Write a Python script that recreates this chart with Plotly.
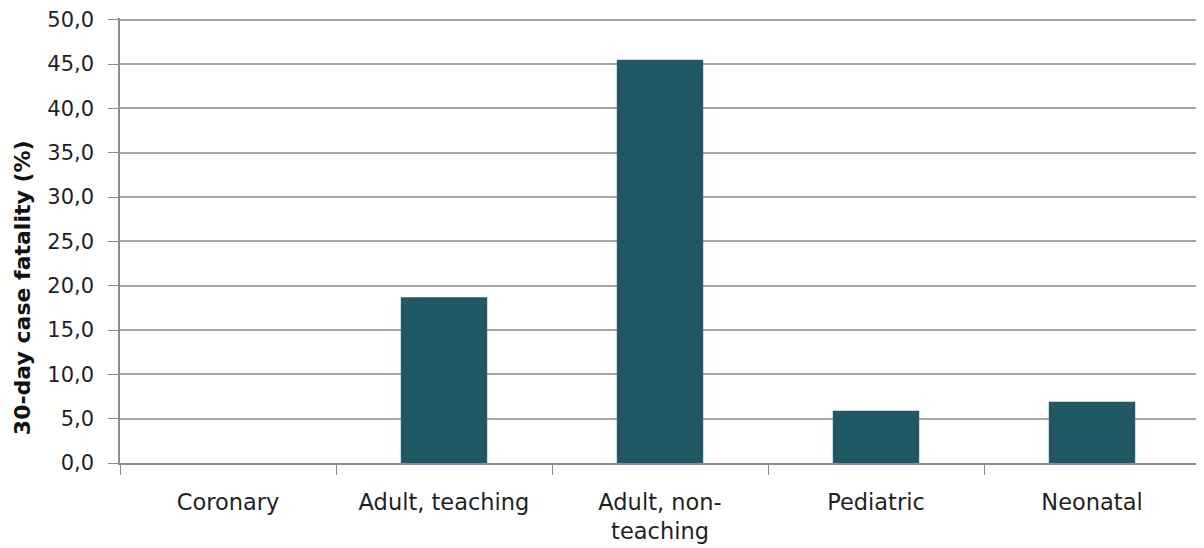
import plotly.graph_objects as go

categories = ["Coronary", "Adult, teaching", "Adult, non-<br>teaching", "Pediatric", "Neonatal"]
values = [0.0, 18.7, 45.5, 5.9, 6.9]
y_ticks = [0, 5, 10, 15, 20, 25, 30, 35, 40, 45, 50]
y_title = "<b>30-day case fatality (%)</b>"

fig = go.Figure(go.Bar(x=categories, y=values, marker=dict(color="#215866", line=dict(width=0))))

fig.update_layout(
    width=1204, height=548,
    margin=dict(l=112, r=12, t=10, b=93),
    paper_bgcolor="white", plot_bgcolor="white",
    bargap=0.6,
    separators=",.",
    showlegend=False,
    font=dict(family="DejaVu Sans", size=20, color="#1f1f1f"),
)
fig.update_xaxes(
    showline=True, linecolor="#8c8c8c", linewidth=1.5,
    ticks="outside", tickson="boundaries", ticklen=10, tickcolor="#8c8c8c",
    showgrid=False, tickfont=dict(size=22.5, color="#1f1f1f"),
    ticklabelstandoff=18, automargin=False,
)
fig.update_yaxes(
    range=[0, 50.2], tickvals=y_ticks, tickformat=".1f",
    showline=True, linecolor="#8c8c8c", linewidth=1.5,
    ticks="outside", ticklen=10, tickcolor="#8c8c8c",
    showgrid=True, gridcolor="#a6a6a6", gridwidth=1.5,
    zeroline=False, automargin=False,
    tickfont=dict(size=21, color="#1f1f1f"),
    ticklabelstandoff=10, ticklabeloverflow="allow",
)
fig.add_annotation(
    text=y_title, textangle=-90,
    xref="paper", yref="paper", x=-0.0907, y=0.393,
    xanchor="center", yanchor="middle", showarrow=False,
    font=dict(size=22, color="#111111"),
)

fig.write_html("out.html")
